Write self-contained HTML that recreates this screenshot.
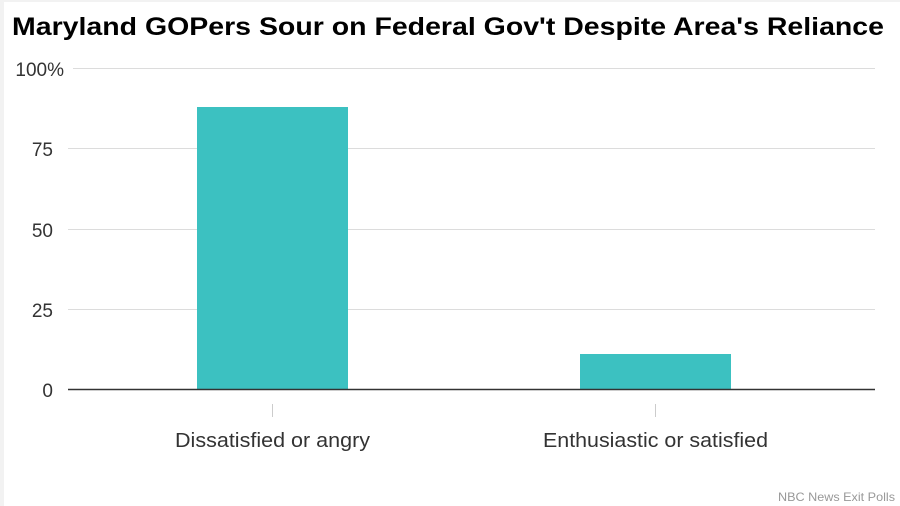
<!DOCTYPE html>
<html><head><style>
html,body{margin:0;padding:0;background:#fff;}
body{width:900px;height:506px;overflow:hidden;position:relative;}
</style></head><body>
<svg width="900" height="506" xmlns="http://www.w3.org/2000/svg" style="position:absolute;left:0;top:0">
<rect x="0" y="0" width="900" height="506" fill="#fff"/>
<rect x="0" y="0" width="4" height="506" fill="#f2f2f2"/>
<rect x="0" y="0" width="900" height="2" fill="#f2f2f2"/>
<text x="12" y="35" font-family="Liberation Sans, sans-serif" font-weight="bold" font-size="25" fill="#000" textLength="872" lengthAdjust="spacingAndGlyphs">Maryland GOPers Sour on Federal Gov't Despite Area's Reliance</text>
<g stroke="#dcdcdc" stroke-width="1">
<line x1="73" y1="68.5" x2="875" y2="68.5"/>
<line x1="68" y1="148.5" x2="875" y2="148.5"/>
<line x1="68" y1="229.5" x2="875" y2="229.5"/>
<line x1="68" y1="309.5" x2="875" y2="309.5"/>
</g>
<g font-family="Liberation Sans, sans-serif" font-size="19" fill="#333" text-anchor="end">
<text x="64" y="76">100%</text>
<text x="53" y="156">75</text>
<text x="53" y="237">50</text>
<text x="53" y="317">25</text>
<text x="53" y="397">0</text>
</g>
<rect x="197" y="107" width="151" height="282" fill="#3cc1c1"/>
<rect x="580" y="354" width="151" height="35" fill="#3cc1c1"/>
<line x1="68" y1="389.5" x2="875" y2="389.5" stroke="#333" stroke-width="1.5"/>
<g stroke="#ccc"><line x1="272.5" y1="404" x2="272.5" y2="417"/><line x1="655.5" y1="404" x2="655.5" y2="417"/></g>
<g font-family="Liberation Sans, sans-serif" font-size="20" fill="#333">
<text x="175" y="447" textLength="195" lengthAdjust="spacingAndGlyphs">Dissatisfied or angry</text>
<text x="543" y="447" textLength="225" lengthAdjust="spacingAndGlyphs">Enthusiastic or satisfied</text>
</g>
<text x="778" y="501" font-family="Liberation Sans, sans-serif" font-size="12" fill="#999" textLength="117" lengthAdjust="spacingAndGlyphs">NBC News Exit Polls</text>
</svg>
</body></html>
